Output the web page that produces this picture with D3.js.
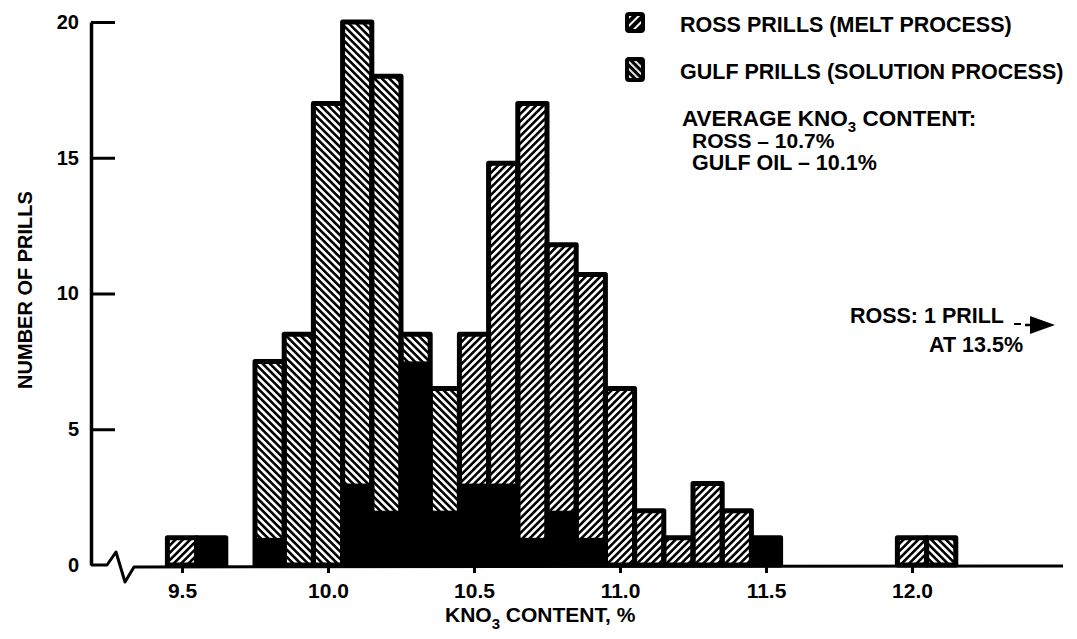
<!DOCTYPE html>
<html>
<head>
<meta charset="utf-8">
<script src="https://cdn.jsdelivr.net/npm/d3@7"></script>
<style>
  body { margin: 0; background: #fff; }
  svg text { font-family: "Liberation Sans", Arial, Helvetica, sans-serif; font-weight: bold; fill: #000; }
</style>
</head>
<body>
<svg id="chart" width="1077" height="639"></svg>
<script>
// KNO3 content of single prills, Ross (melt) vs Gulf (solution)
var binCenters = [9.5, 9.6, 9.8, 9.9, 10.0, 10.1, 10.2, 10.3, 10.4, 10.5, 10.6, 10.7, 10.8, 10.9, 11.0, 11.1, 11.2, 11.3, 11.4, 11.5, 12.0, 12.1];
var rossCounts = [1, 1, 1, 0, 0, 3, 2, 7.5, 2, 8.5, 14.8, 17, 11.8, 10.7, 6.5, 2, 1, 3, 2, 1, 1, 0];
var gulfCounts = [0, 1, 7.5, 8.5, 17, 20, 18, 8.5, 6.5, 3, 3, 1, 2, 1, 0, 0, 0, 0, 0, 1, 0, 1];
var binWidth = 0.1;
var xTicks = [9.5, 10.0, 10.5, 11.0, 11.5, 12.0];
var yTicks = [0, 5, 10, 15, 20];
var legendLabels = ["ROSS PRILLS (MELT PROCESS)", "GULF PRILLS (SOLUTION PROCESS)"];

var svg = d3.select("#chart");
var defs = svg.append("defs");

var x = d3.scaleLinear().domain([9.5, 12.0]).range([182, 912]);
var y = d3.scaleLinear().domain([0, 20]).range([565, 22]);

//hatch patterns, angle 45 gives "/" and -45 gives "\"
function hatch(id, angle, bg, fg, gap, lw) {
  var p = defs.append("pattern")
    .attr("id", id)
    .attr("patternUnits", "userSpaceOnUse")
    .attr("width", gap)
    .attr("height", gap)
    .attr("patternTransform", "rotate(" + angle + ")");
  p.append("rect").attr("width", gap).attr("height", gap).attr("fill", bg);
  p.append("rect").attr("width", lw).attr("height", gap).attr("fill", fg);
}
hatch("ross", 45, "#fff", "#000", 5.2, 2.6);
hatch("gulf", -45, "#fff", "#000", 5.2, 2.6);
hatch("rossLeg", 45, "#000", "#fff", 6, 2);
hatch("gulfLeg", -45, "#000", "#fff", 5, 1.8);

var bins = binCenters.map(function(c, i) {
  return { c: c, ross: rossCounts[i], gulf: gulfCounts[i] };
});

var bars = svg.append("g").attr("class", "bars");

//hatched part, pattern of whichever series is taller
bars.selectAll("rect.top")
  .data(bins)
  .enter()
  .append("rect")
  .attr("class", "top")
  .attr("x", function(d) { return x(d.c - binWidth / 2); })
  .attr("width", function(d) { return x(d.c + binWidth / 2) - x(d.c - binWidth / 2); })
  .attr("y", function(d) { return y(Math.max(d.ross, d.gulf)); })
  .attr("height", function(d) { return y(0) - y(Math.max(d.ross, d.gulf)); })
  .attr("fill", function(d) { return d.ross >= d.gulf ? "url(#ross)" : "url(#gulf)"; });

//where both hatchings overlap it prints solid black
bars.selectAll("rect.both")
  .data(bins)
  .enter()
  .append("rect")
  .attr("class", "both")
  .attr("x", function(d) { return x(d.c - binWidth / 2); })
  .attr("width", function(d) { return x(d.c + binWidth / 2) - x(d.c - binWidth / 2); })
  .attr("y", function(d) { return y(Math.min(d.ross, d.gulf)); })
  .attr("height", function(d) { return y(0) - y(Math.min(d.ross, d.gulf)); })
  .attr("fill", "#000");

bars.selectAll("rect.outline")
  .data(bins)
  .enter()
  .append("rect")
  .attr("class", "outline")
  .attr("x", function(d) { return x(d.c - binWidth / 2); })
  .attr("width", function(d) { return x(d.c + binWidth / 2) - x(d.c - binWidth / 2); })
  .attr("y", function(d) { return y(Math.max(d.ross, d.gulf)); })
  .attr("height", function(d) { return y(0) - y(Math.max(d.ross, d.gulf)); })
  .attr("fill", "none")
  .attr("stroke", "#000")
  .attr("stroke-width", 5)
  .attr("stroke-linejoin", "round");

//baseline with the axis break
var baseline = d3.line();
svg.append("path")
  .attr("d", baseline([[91, y(0)], [107, y(0)], [116, 552], [125, 582], [134, 567], [1063, 566]]))
  .attr("fill", "none")
  .attr("stroke", "#000")
  .attr("stroke-width", 3)
  .attr("stroke-linejoin", "round");

//y axis, ticks point inward
var gy = svg.append("g")
  .attr("transform", "translate(91,0)")
  .call(d3.axisLeft(y).tickValues(yTicks).tickSize(-24).tickSizeOuter(0).tickPadding(12));
gy.select(".domain").attr("stroke-width", 3.5);
gy.selectAll(".tick line").attr("stroke-width", 3)
  .filter(function(d) { return d === 0; }).remove();
gy.selectAll(".tick text").style("font-size", "20px").attr("fill", "#000");

var gx = svg.append("g")
  .attr("transform", "translate(0," + y(0) + ")")
  .call(d3.axisBottom(x).tickValues(xTicks).tickFormat(d3.format(".1f")).tickSize(8).tickPadding(10));
gx.select(".domain").remove();
gx.selectAll(".tick line").attr("stroke-width", 3);
gx.selectAll(".tick text").style("font-size", "21px").attr("fill", "#000");

//axis titles
svg.append("text")
  .attr("transform", "translate(32,290) rotate(-90)")
  .style("text-anchor", "middle")
  .style("font-size", "20px")
  .text("NUMBER OF PRILLS");

var xt = svg.append("text")
  .attr("x", 445)
  .attr("y", 622)
  .style("font-size", "21px");
xt.append("tspan").text("KNO");
xt.append("tspan").attr("dy", 7).style("font-size", "15px").text("3");
xt.append("tspan").attr("dy", -7).text(" CONTENT, %");

//legend
var legend = svg.append("g").attr("class", "legend");
legend.selectAll("rect")
  .data(legendLabels)
  .enter()
  .append("rect")
  .attr("x", 627)
  .attr("y", function(d, i) { return 14 + i * 45; })
  .attr("width", 16)
  .attr("height", function(d, i) { return 17 + i * 4; })
  .attr("rx", 2)
  .attr("fill", function(d, i) { return i === 0 ? "url(#rossLeg)" : "url(#gulfLeg)"; })
  .attr("stroke", "#000")
  .attr("stroke-width", 4);
legend.selectAll("text")
  .data(legendLabels)
  .enter()
  .append("text")
  .attr("x", 680)
  .attr("y", function(d, i) { return 32 + i * 47; })
  .style("font-size", "21.5px")
  .text(function(d) { return d; });

var avg = svg.append("text")
  .attr("x", 682)
  .attr("y", 126)
  .style("font-size", "22.5px");
avg.append("tspan").text("AVERAGE KNO");
avg.append("tspan").attr("dy", 6).style("font-size", "15px").text("3");
avg.append("tspan").attr("dy", -6).text(" CONTENT:");
svg.append("text").attr("x", 692).attr("y", 148).style("font-size", "21px").text("ROSS \u2013 10.7%");
svg.append("text").attr("x", 692).attr("y", 170).style("font-size", "21.5px").text("GULF OIL \u2013 10.1%");

//outlier note with arrow
svg.append("text")
  .attr("x", 1004)
  .attr("y", 323)
  .style("text-anchor", "end")
  .style("font-size", "21.5px")
  .text("ROSS: 1 PRILL");
svg.append("text")
  .attr("x", 1023)
  .attr("y", 352)
  .style("text-anchor", "end")
  .style("font-size", "21.5px")
  .text("AT 13.5%");
svg.append("line")
  .attr("x1", 1014).attr("x2", 1021)
  .attr("y1", 324).attr("y2", 324)
  .attr("stroke", "#000").attr("stroke-width", 2);
svg.append("line")
  .attr("x1", 1025).attr("x2", 1034)
  .attr("y1", 325).attr("y2", 325)
  .attr("stroke", "#000").attr("stroke-width", 2.5);
svg.append("path")
  .attr("d", "M1030,316 L1055,325 L1030,334 Z")
  .attr("fill", "#000");
</script>
</body>
</html>
